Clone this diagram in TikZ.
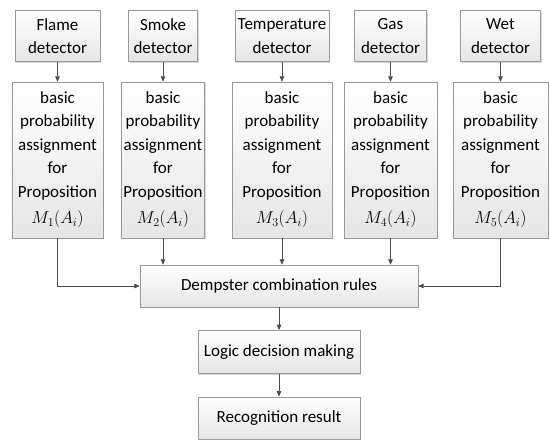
\documentclass[tikz,border=0pt]{standalone}
\usepackage{fontspec}
\setmainfont{Carlito}
\usetikzlibrary{positioning, arrows.meta, shadows}

\begin{document}
\begin{tikzpicture}[x=1pt, y=-1pt, node distance=20pt,
    box/.style={draw=gray!80, rectangle, align=center, inner sep=2pt,
        top color=white, bottom color=gray!20, font=\fontsize{17}{23.5}\selectfont,
        drop shadow={shadow xshift=1.2pt, shadow yshift=-1.2pt, opacity=0.3}},
    flow/.style={-{Triangle[length=5.5pt, width=4.5pt]}, draw=black!70, line width=0.8pt}]
    \useasboundingbox (0,0) rectangle (550,444);

    \node[box, minimum width=91pt, minimum height=156pt] (bpa1) at (57.5,160)
        {basic\\probability\\assignment\\for\\Proposition\\[3pt]$M_{1}(A_{i})$};
    \node[box, minimum width=82pt, minimum height=156pt] (bpa2) at (163,160)
        {basic\\probability\\assignment\\for\\Proposition\\[3pt]$M_{2}(A_{i})$};
    \node[box, minimum width=100pt, minimum height=156pt] (bpa3) at (282,160)
        {basic\\probability\\assignment\\for\\Proposition\\[3pt]$M_{3}(A_{i})$};
    \node[box, minimum width=93pt, minimum height=156pt] (bpa4) at (390.5,160)
        {basic\\probability\\assignment\\for\\Proposition\\[3pt]$M_{4}(A_{i})$};
    \node[box, minimum width=95pt, minimum height=156pt] (bpa5) at (500.5,160)
        {basic\\probability\\assignment\\for\\Proposition\\[3pt]$M_{5}(A_{i})$};

    \node[box, minimum width=85pt, minimum height=51pt, above=of bpa1] (flame) {Flame\\detector};
    \node[box, minimum width=69pt, minimum height=51pt, above=of bpa2] (smoke) {Smoke\\detector};
    \node[box, minimum width=94pt, minimum height=51pt, above=of bpa3] (temp) {Temperature\\detector};
    \node[box, minimum width=72pt, minimum height=51pt, above=of bpa4] (gas) {Gas\\detector};
    \node[box, minimum width=80pt, minimum height=51pt, above=of bpa5] (wet) {Wet\\detector};

    \node[box, minimum width=278pt, minimum height=42pt] (dempster) at (279,286) {Dempster combination rules};
    \node[box, minimum width=162pt, minimum height=43pt, below=23pt of dempster] (logic) {Logic decision making};
    \node[box, minimum width=162pt, minimum height=42pt, below=23pt of logic] (result) {Recognition result};

    % detectors to assignments
    \draw[flow] (flame) -- (bpa1);
    \draw[flow] (smoke) -- (bpa2);
    \draw[flow] (temp) -- (bpa3);
    \draw[flow] (gas) -- (bpa4);
    \draw[flow] (wet) -- (bpa5);

    % assignments to combination
    \draw[flow] (bpa1.south) |- (dempster.west);
    \draw[flow] (bpa2.south) -- (bpa2.south |- dempster.north);
    \draw[flow] (bpa3.south) -- (bpa3.south |- dempster.north);
    \draw[flow] (bpa4.south) -- (bpa4.south |- dempster.north);
    \draw[flow] (bpa5.south) |- (dempster.east);

    \draw[flow] (dempster) -- (logic);
    \draw[flow] (logic) -- (result);
\end{tikzpicture}
\end{document}
